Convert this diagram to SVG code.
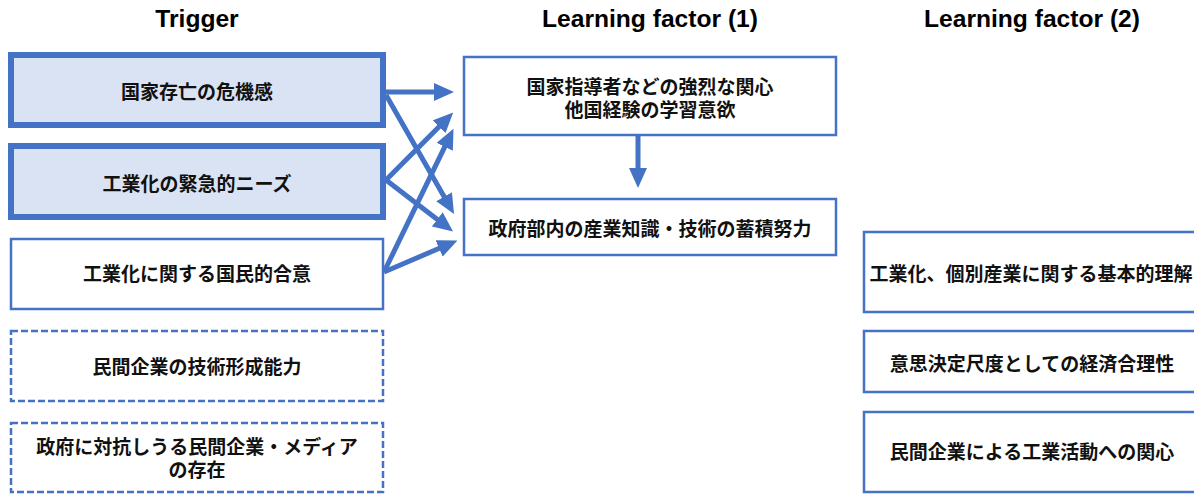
<svg xmlns="http://www.w3.org/2000/svg" width="1194" height="494" viewBox="0 0 1194 494">
<style>
.hdr{font-family:"Liberation Sans",Arial,sans-serif;font-weight:bold;font-size:24.6px;fill:#000;text-anchor:middle}
.t{font-family:"Noto Sans CJK JP","Noto Sans CJK SC",sans-serif;font-weight:bold;font-size:19px;fill:#111;text-anchor:middle;dominant-baseline:central}
.thick{fill:#DAE3F3;stroke:#4472C4;stroke-width:6}
.thin{fill:#fff;stroke:#4472C4;stroke-width:2.5}
.dash{fill:#fff;stroke:#4472C4;stroke-width:2.5;stroke-dasharray:7 3}
.conn line{stroke:#4472C4;stroke-width:5;fill:none}
</style>
<defs>
<marker id="ah" viewBox="0 0 10 9" markerWidth="4" markerHeight="3.6" refX="0.5" refY="4.5" orient="auto" markerUnits="strokeWidth">
<path d="M0,0 L10,4.5 L0,9 z" fill="#4472C4"/>
</marker>
</defs>
<rect width="1194" height="494" fill="#fff"/>
<g id="headers">
<text class="hdr" x="197" y="27">Trigger</text>
<text class="hdr" x="650" y="27">Learning factor (1)</text>
<text class="hdr" x="1032" y="27">Learning factor (2)</text>
</g>
<g id="trigger1"><rect class="thick" x="11" y="55" width="372" height="70"/><text class="t" x="197" y="90">国家存亡の危機感</text></g>
<g id="trigger2"><rect class="thick" x="11" y="146" width="372" height="71"/><text class="t" x="197" y="182">工業化の緊急的ニーズ</text></g>
<g id="trigger3"><rect class="thin" x="11" y="239" width="372" height="70"/><text class="t" x="197" y="272">工業化に関する国民的合意</text></g>
<g id="trigger4"><rect class="dash" x="11" y="331" width="372" height="70"/><text class="t" x="197" y="365">民間企業の技術形成能力</text></g>
<g id="trigger5"><rect class="dash" x="11" y="423" width="372" height="69"/><text class="t"><tspan x="197" y="444.5">政府に対抗しうる民間企業・メディア</tspan><tspan x="197" y="467.5">の存在</tspan></text></g>
<g id="lf1a"><rect class="thin" x="464" y="57" width="372" height="78"/><text class="t"><tspan x="650" y="84.5">国家指導者などの強烈な関心</tspan><tspan x="650" y="107.5">他国経験の学習意欲</tspan></text></g>
<g id="lf1b"><rect class="thin" x="464" y="199" width="372" height="56"/><text class="t" x="650" y="227">政府部内の産業知識・技術の蓄積努力</text></g>
<g id="lf2a"><rect class="thin" x="864" y="232" width="340" height="80"/><text class="t" x="1031" y="272">工業化、個別産業に関する基本的理解</text></g>
<g id="lf2b"><rect class="thin" x="864" y="331" width="340" height="61"/><text class="t" x="1032" y="362">意思決定尺度としての経済合理性</text></g>
<g id="lf2c"><rect class="thin" x="864" y="412" width="340" height="80"/><text class="t" x="1032" y="450">民間企業による工業活動への関心</text></g>
<g id="connectors" class="conn">
<line x1="386" y1="92" x2="435" y2="92" marker-end="url(#ah)"/>
<line x1="386" y1="95" x2="444.6" y2="197.6" marker-end="url(#ah)"/>
<line x1="386" y1="180" x2="439.8" y2="126" marker-end="url(#ah)"/>
<line x1="386" y1="180" x2="438" y2="220" marker-end="url(#ah)"/>
<line x1="384" y1="272" x2="445.2" y2="145.9" marker-end="url(#ah)"/>
<line x1="384" y1="272" x2="440" y2="248" marker-end="url(#ah)"/>
<line x1="638" y1="136" x2="638" y2="169" marker-end="url(#ah)"/>
</g>
</svg>
